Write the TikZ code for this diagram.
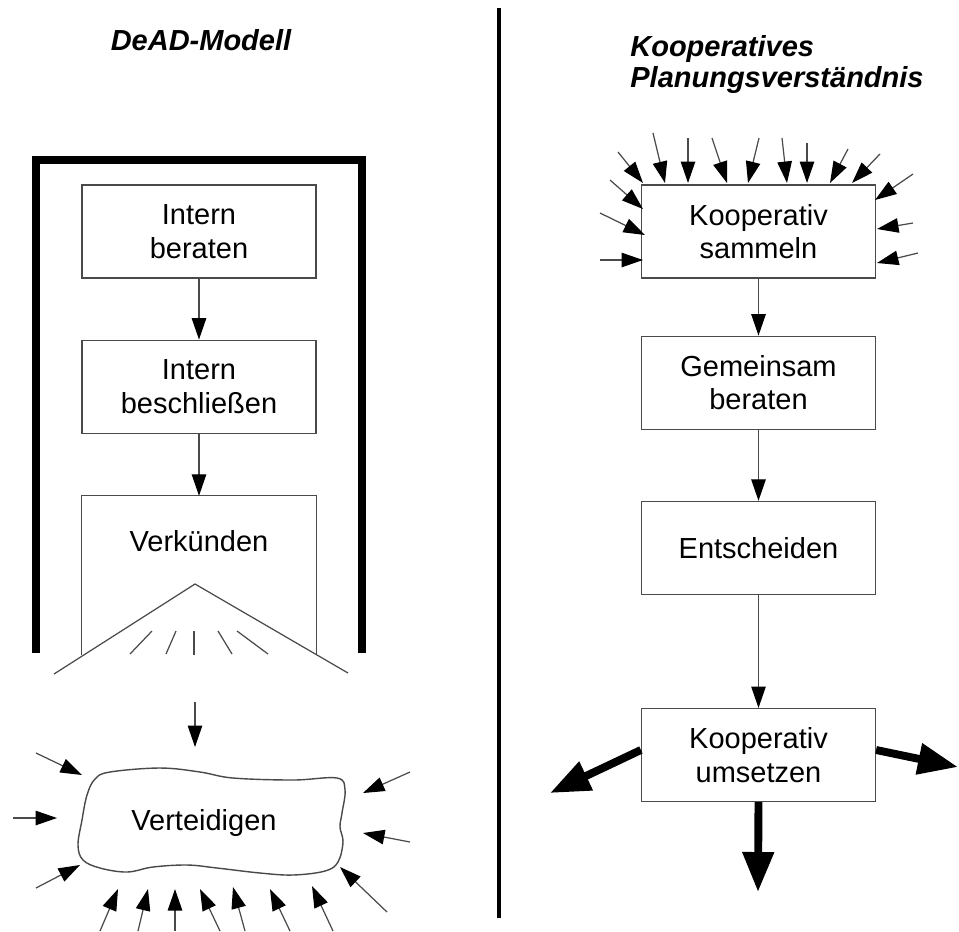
\documentclass[tikz,border=0pt]{standalone}
\usepackage{fontspec}
\setmainfont{Liberation Sans}
\usepackage{tikz}
\usetikzlibrary{arrows.meta,positioning}
\definecolor{rand}{HTML}{4A4A4A}

\begin{document}
\begin{tikzpicture}[x=0.02cm,y=-0.02cm,
box/.style={draw=rand,line width=0.7pt,minimum width=4.68cm,minimum height=1.86cm,inner sep=0pt,align=center,font=\fontsize{16.5}{19}\selectfont},
titel/.style={inner sep=0pt,align=left,font=\fontsize{16.5}{17.5}\selectfont\bfseries\itshape},
arr/.style={-{Triangle[length=4.3mm,width=2.9mm,color=black]},line width=0.7pt,draw=rand},
dick/.style={-{Triangle[length=8mm,width=6mm]},line width=4.5pt},
rahmen/.style={line width=5pt,line join=miter}]
\useasboundingbox (0,0) rectangle (959,931);

% Titel und Trennlinie
\node[titel,anchor=base] (tL) at (201,50) {DeAD-Modell};
\node[titel,anchor=north west] (tR) at (630,35) {Kooperatives\\Planungsverständnis};
\draw[line width=2.3pt] (499,8) -- (499,918);

% DeAD-Modell
\draw[rahmen] (36,653) -- (36,160) -- (362,160) -- (362,653);
\node[box] (ib) at (199,231.5) {Intern\\beraten};
\node[box,below=1.22cm of ib] (ibs) {Intern\\beschließen};
\node[box,draw=none,minimum height=3.16cm,below=1.24cm of ibs] (verk) {};
\node[anchor=base,font=\fontsize{16.5}{19}\selectfont] (verktxt) at ([yshift=-1.12cm]verk.north) {Verkünden};
\draw[draw=rand,line width=0.7pt] (verk.south west) -- (verk.north west) -- (verk.north east) -- (verk.south east);
\draw[arr] (ib) -- (ibs);
\draw[arr] (ibs) -- (verk);
% Trichter
\draw[draw=rand,line width=0.7pt] (54,674) -- (195,584) -- (348,673);
\foreach \xa/\ya/\xb/\yb in {152/631/130/654,176/631/166/654,194/631/194/655,218/631/232/654,237/631/268/654}
  \draw[draw=rand,line width=0.7pt] (\xa,\ya) -- (\xb,\yb);
\coordinate (schall) at (195,702);
\draw[arr] (schall) -- ++(0,45);

% Verteidigen
\draw[draw=rand,line width=0.8pt] plot[smooth cycle,tension=0.6] coordinates {
  (95,779) (110,772) (160,768) (200,772) (233,778) (293,780) (337,778) (345,790)
  (342,813) (340,827) (343,842) (338,862) (325,871) (293,875) (260,873) (217,868)
  (187,865) (153,867) (127,872) (100,868) (83,860) (78,845) (82,820) (87,795)};
\node[font=\fontsize{16.5}{19}\selectfont] (vert) at (204,823) {Verteidigen};
\foreach \xa/\ya/\xb/\yb in {36/753/82/775,13/818/57/818,36/888/80/865,
  410/772/363/793,410/842/363/833,387/912/340/867,
  100/931/118/889,138/931/148/889,175/931/175/889,220/931/200/889,
  245/931/233/887,290/931/270/889,333/931/312/886}
  \draw[arr] (\xa,\ya) -- (\xb,\yb);

% Kooperatives Planungsverstaendnis
\node[box] (sam) at (758.5,231.5) {Kooperativ\\sammeln};
\node[box,below=1.14cm of sam] (gem) {Gemeinsam\\beraten};
\node[box,below=1.42cm of gem] (ent) {Entscheiden};
\node[box,below=2.26cm of ent] (ums) {Kooperativ\\umsetzen};
\draw[arr] (sam) -- (gem);
\draw[arr] (gem) -- (ent);
\draw[arr] (ent) -- (ums);
\foreach \xa/\ya/\xb/\yb in {618/152/643/183,653/133/665/183,688/138/688/183,712/138/727/183,
  759/138/748/183,782/138/787/183,807/143/807/183,848/149/830/183,880/154/852/183,
  610/180/643/209,600/213/645/235,600/260/643/260,
  913/174/875/200,913/223/877/229,918/253/877/263}
  \draw[arr] (\xa,\ya) -- (\xb,\yb);
\draw[dick] ([yshift=-0.84cm]ums.north west) -- (550,793);
\draw[dick] ([yshift=-0.84cm]ums.north east) -- (958,767);
\draw[dick] (ums.south) -- (758,892);
\end{tikzpicture}
\end{document}
